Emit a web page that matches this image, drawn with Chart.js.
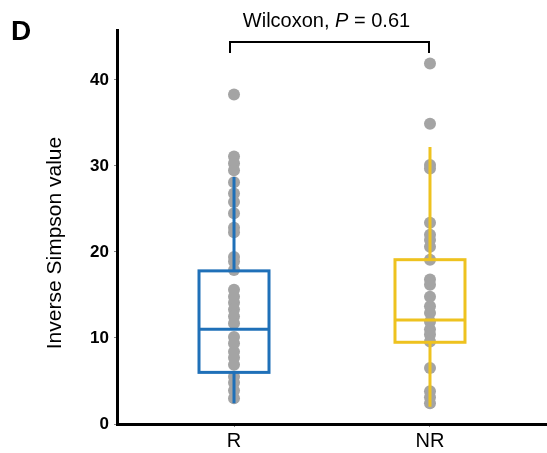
<!DOCTYPE html>
<html>
<head>
<meta charset="utf-8">
<script src="https://cdn.jsdelivr.net/npm/chart.js@4"></script>
<style>
    html, body { margin: 0; padding: 0; background: #fff; }
    #wrap { width: 547px; height: 453px; }
</style>
</head>
<body>
<div id="wrap"><canvas id="chart"></canvas></div>
<script>
// groups on the x axis (placed at 1 and 2)
const groups = ['R', 'NR'];

// per-sample inverse Simpson values
const rValues = [38.3, 31.1, 30.3, 29.5, 28.1, 26.8, 25.8, 24.5, 22.8, 22.3, 19.4, 18.9, 17.9, 15.6, 14.8,
    14.1, 13.3, 12.5, 11.7, 10.1, 9.4, 8.4, 7.7, 6.9, 5.5, 4.8, 3.9, 3.0];
const nrValues = [41.9, 34.9, 30.1, 29.7, 23.4, 22.0, 21.4, 20.6, 19.1, 16.8, 16.2, 14.8, 13.7, 12.9, 11.9,
    11.0, 10.4, 9.6, 6.5, 3.8, 3.1, 2.4];

// box summaries for R and NR
const whiskerLow = [2.4, 2.0];
const q1 = [6.0, 9.5];
const median = [11.0, 12.1];
const q3 = [17.8, 19.1];
const whiskerHigh = [28.7, 32.2];

const boxColors = ['#1f70b8', '#eec21f'];
const yTicks = [0, 10, 20, 30, 40];
const yTitle = 'Inverse Simpson value';
const pLabel = '0.61';

const FONT = "'Liberation Sans', Arial, Helvetica, sans-serif";

const toPoints = (vals, x) => vals.map((v) => ({ x: x, y: v }));

const boxPlotPlugin = {
    id: 'boxPlot',
    afterDatasetsDraw(chart) {
        const ctx = chart.ctx;
        const xs = chart.scales.x;
        const ys = chart.scales.y;
        const halfW = 35;
        ctx.save();
        ctx.lineWidth = 3;
        ctx.lineCap = 'butt';
        for (let i = 0; i < groups.length; i++) {
            const cx = xs.getPixelForValue(i + 1);
            const yq1 = ys.getPixelForValue(q1[i]);
            const yq3 = ys.getPixelForValue(q3[i]);
            const ym = ys.getPixelForValue(median[i]);
            const ylo = ys.getPixelForValue(whiskerLow[i]);
            const yhi = ys.getPixelForValue(whiskerHigh[i]);
            ctx.strokeStyle = boxColors[i];
            ctx.beginPath();
            ctx.moveTo(cx, yq3);
            ctx.lineTo(cx, yhi);
            ctx.moveTo(cx, yq1);
            ctx.lineTo(cx, ylo);
            ctx.stroke();
            ctx.strokeRect(cx - halfW, yq3, halfW * 2, yq1 - yq3);
            ctx.beginPath();
            ctx.moveTo(cx - halfW, ym);
            ctx.lineTo(cx + halfW, ym);
            ctx.stroke();
        }
        ctx.restore();
    },
};

const annotationPlugin = {
    id: 'annotations',
    afterDraw(chart) {
        const ctx = chart.ctx;
        const xs = chart.scales.x;
        const x1 = xs.getPixelForValue(1) - 4;
        const x2 = xs.getPixelForValue(2) - 1;
        ctx.save();
        // bracket
        ctx.strokeStyle = '#000';
        ctx.lineWidth = 2;
        ctx.beginPath();
        ctx.moveTo(x1, 53);
        ctx.lineTo(x1, 42);
        ctx.lineTo(x2, 42);
        ctx.lineTo(x2, 53);
        ctx.stroke();

        // test label with italic P
        const parts = [
            { t: 'Wilcoxon, ', f: `20px ${FONT}` },
            { t: 'P', f: `italic 20px ${FONT}` },
            { t: ' = ' + pLabel, f: `20px ${FONT}` },
        ];
        let total = 0;
        for (const p of parts) {
            ctx.font = p.f;
            p.w = ctx.measureText(p.t).width;
            total += p.w;
        }
        let x = (x1 + x2) / 2 - total / 2 - 3;
        ctx.fillStyle = '#000';
        ctx.textBaseline = 'middle';
        ctx.textAlign = 'left';
        for (const p of parts) {
            ctx.font = p.f;
            ctx.fillText(p.t, x, 21);
            x += p.w;
        }

        // y axis title
        ctx.save();
        ctx.translate(55, 243);
        ctx.rotate(-Math.PI / 2);
        ctx.textAlign = 'center';
        ctx.font = `21px ${FONT}`;
        ctx.fillText(yTitle, 0, 0);
        ctx.restore();

        // panel letter
        ctx.font = `bold 28px ${FONT}`;
        ctx.fillText('D', 11, 32);
        ctx.restore();
    },
};

new Chart(document.getElementById('chart').getContext('2d'), {
    type: 'scatter',
    data: {
        datasets: [
            {
                label: groups[0],
                data: toPoints(rValues, 1),
                backgroundColor: '#a4a4a4',
                borderWidth: 0,
                pointRadius: 6,
            },
            {
                label: groups[1],
                data: toPoints(nrValues, 2),
                backgroundColor: '#a4a4a4',
                borderWidth: 0,
                pointRadius: 6,
            },
        ],
    },
    options: {
        responsive: true,
        maintainAspectRatio: false,
        animation: false,
        layout: { autoPadding: false, padding: { top: 30, right: 0, left: 0, bottom: 0 } },
        plugins: {
            legend: { display: false },
            tooltip: { enabled: false },
        },
        scales: {
            x: {
                type: 'linear',
                min: 0.403,
                max: 2.597,
                afterBuildTicks: (scale) => {
                    scale.ticks = groups.map((g, i) => ({ value: i + 1 }));
                },
                afterFit: (scale) => {
                    scale.height = 29;
                    scale.paddingLeft = 0;
                    scale.paddingRight = 0;
                },
                ticks: {
                    callback: (v) => groups[v - 1],
                    color: '#000',
                    font: { family: FONT, size: 20 },
                    padding: 2,
                    maxRotation: 0,
                },
                grid: { drawOnChartArea: false, drawTicks: true, tickLength: 3, color: '#888' },
                border: { display: true, color: '#000', width: 3 },
            },
            y: {
                min: 0,
                max: 45.8,
                afterBuildTicks: (scale) => {
                    scale.ticks = yTicks.map((v) => ({ value: v }));
                },
                afterFit: (scale) => {
                    scale.width = 117;
                    scale.paddingTop = 0;
                    scale.paddingBottom = 0;
                },
                ticks: {
                    color: '#000',
                    font: { family: FONT, size: 17, weight: 'bold' },
                    padding: 5,
                },
                grid: { drawOnChartArea: false, drawTicks: true, tickLength: 3, color: '#888' },
                border: { display: true, color: '#000', width: 3 },
            },
        },
    },
    plugins: [boxPlotPlugin, annotationPlugin],
});
</script>
</body>
</html>
